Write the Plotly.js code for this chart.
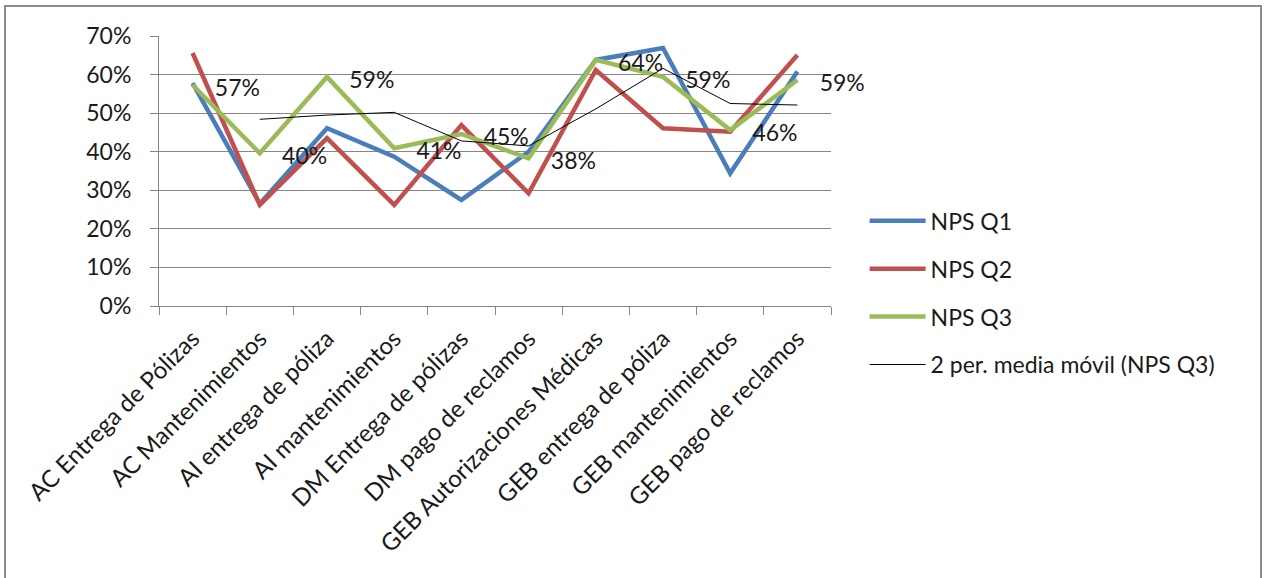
<!DOCTYPE html>
<html>
<head>
<meta charset="utf-8">
<script src="https://cdn.plot.ly/plotly-3.0.1.min.js"></script>
<style>
  html, body { margin: 0; padding: 0; background: #fff; overflow: hidden; }
  #chart { position: absolute; left: 0; top: 0; width: 1264px; height: 578px; }
  #frame { position: absolute; left: 4px; top: 5px; width: 1254px; height: 640px;
           border: 2px solid #8c8c8c; pointer-events: none; }
</style>
</head>
<body>
<div id="chart"></div>
<div id="frame"></div>
<script>
const categories = [
  "AC Entrega de Pólizas",
  "AC Mantenimientos",
  "AI entrega de póliza",
  "AI mantenimientos",
  "DM Entrega de pólizas",
  "DM pago de reclamos",
  "GEB Autorizaciones Médicas",
  "GEB entrega de póliza",
  "GEB mantenimientos",
  "GEB pago de reclamos"
];
const npsQ1 = [0.578, 0.265, 0.461, 0.387, 0.275, 0.400, 0.638, 0.669, 0.344, 0.608];
const npsQ2 = [0.656, 0.262, 0.435, 0.262, 0.469, 0.292, 0.612, 0.461, 0.452, 0.651];
const npsQ3 = [0.573, 0.396, 0.594, 0.409, 0.446, 0.383, 0.638, 0.594, 0.456, 0.586];
const movingAvgQ3 = [null, 0.484, 0.495, 0.502, 0.428, 0.415, 0.511, 0.616, 0.525, 0.521];
const yTickValues = [0, 0.1, 0.2, 0.3, 0.4, 0.5, 0.6, 0.7];

const FONT = "Lato, 'Open Sans', sans-serif";
const grey = "#868686";

const traces = [
  { x: categories, y: npsQ1, name: "NPS Q1", type: "scatter", mode: "lines",
    line: { color: "#4A7EBB", width: 4.5 }, legendgroup: "a" },
  { x: categories, y: npsQ2, name: "NPS Q2", type: "scatter", mode: "lines",
    line: { color: "#C0504D", width: 4.5 }, legendgroup: "b" },
  { x: categories, y: npsQ3, name: "NPS Q3", type: "scatter", mode: "lines",
    line: { color: "#9BBB59", width: 4.5 }, legendgroup: "c" },
  { x: categories, y: movingAvgQ3, name: "2 per. media móvil (NPS Q3)", type: "scatter", mode: "lines",
    line: { color: "#000000", width: 1 }, legendgroup: "d", connectgaps: false },
  { x: categories, y: npsQ3, yaxis: "y2", type: "scatter", mode: "markers+text",
    marker: { size: 34, color: "rgba(0,0,0,0)" },
    texttemplate: "%{y:.0%}", textposition: "middle right", cliponaxis: false,
    textfont: { family: FONT, size: 23, color: "#1a1a1a" },
    showlegend: false, hoverinfo: "skip" }
];

const layout = {
  width: 1264, height: 578,
  margin: { l: 159, r: 433, t: 36, b: 272 },
  paper_bgcolor: "#ffffff", plot_bgcolor: "#ffffff",
  font: { family: FONT, size: 23, color: "#1a1a1a" },
  showlegend: true,
  legend: {
    x: 1.05, xanchor: "left", y: 0.395, yanchor: "top",
    traceorder: "grouped", tracegroupgap: 15,
    font: { family: FONT, size: 23, color: "#1a1a1a" },
    bgcolor: "rgba(0,0,0,0)", itemwidth: 56
  },
  xaxis: {
    type: "category",
    tickangle: -45,
    ticks: "outside", ticklen: 8, tickcolor: grey, tickson: "boundaries",
    showline: true, linecolor: grey, linewidth: 1,
    showgrid: false, zeroline: false,
    ticklabelstandoff: 8,
    tickfont: { family: FONT, size: 24, color: "#1a1a1a" },
    range: [-0.5, 9.5]
  },
  yaxis: {
    range: [0, 0.7],
    tickvals: yTickValues, tickformat: ".0%",
    ticks: "outside", ticklen: 8, tickcolor: grey,
    showline: true, linecolor: grey, linewidth: 1,
    showgrid: true, gridcolor: grey, gridwidth: 1,
    zeroline: false,
    ticklabelstandoff: 14,
    tickfont: { family: FONT, size: 23, color: "#1a1a1a" }
  },
  yaxis2: {
    overlaying: "y", range: [0.013, 0.713], visible: false, showgrid: false, zeroline: false
  }
};

Plotly.newPlot("chart", traces, layout, { displayModeBar: false, staticPlot: true });
</script>
</body>
</html>
